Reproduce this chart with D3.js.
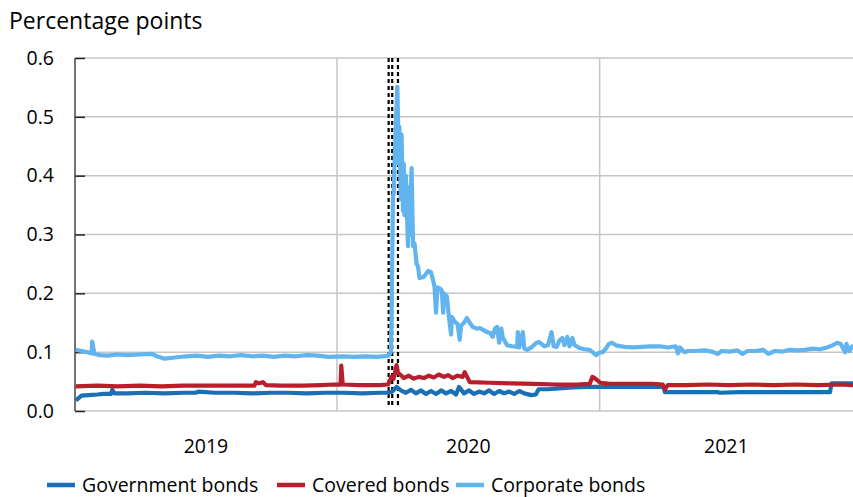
<!DOCTYPE html>
<html>
<head>
<meta charset="utf-8">
<script src="https://cdn.jsdelivr.net/npm/d3@7"></script>
<style>
  html, body { margin: 0; padding: 0; background: #fff; }
  svg { display: block; }
  text { font-family: "Open Sans", Lato, sans-serif; fill: #000; }
</style>
</head>
<body>
<svg id="chart" width="853" height="497"></svg>
<script>
// ---------- DATA ----------
const yTicks = [0, 0.1, 0.2, 0.3, 0.4, 0.5, 0.6];
const yearLabels = ["2019", "2020", "2021"];
const eventDates = ["2020-03-13", "2020-03-18", "2020-03-26"];
const seriesNames = ["Government bonds", "Covered bonds", "Corporate bonds"];

const govDates = ["2019-01-02","2019-01-06","2019-01-10","2019-01-20","2019-02-01","2019-02-10","2019-02-20","2019-02-22","2019-02-25","2019-03-15","2019-04-10","2019-05-05","2019-06-01","2019-06-18","2019-06-22","2019-07-15","2019-08-10","2019-09-05","2019-10-01","2019-10-25","2019-11-20","2019-12-15","2020-01-10","2020-02-05","2020-03-01","2020-03-12","2020-03-18","2020-03-24","2020-03-30","2020-04-06","2020-04-13","2020-04-20","2020-04-27","2020-05-04","2020-05-11","2020-05-18","2020-05-25","2020-06-01","2020-06-08","2020-06-15","2020-06-19","2020-06-26","2020-07-03","2020-07-10","2020-07-17","2020-07-24","2020-07-31","2020-08-07","2020-08-14","2020-08-21","2020-08-28","2020-09-04","2020-09-11","2020-09-18","2020-09-28","2020-10-04","2020-10-08","2020-10-20","2020-11-10","2020-11-25","2020-12-14","2021-01-15","2021-02-15","2021-03-15","2021-03-31","2021-04-02","2021-05-01","2021-06-01","2021-06-15","2021-06-17","2021-07-15","2021-08-15","2021-09-15","2021-10-15","2021-11-18","2021-11-20","2021-12-20"];
const govValues = [0.018,0.022,0.026,0.027,0.028,0.029,0.029,0.036,0.030,0.030,0.031,0.030,0.031,0.031,0.033,0.031,0.031,0.030,0.031,0.031,0.030,0.031,0.031,0.030,0.031,0.031,0.033,0.041,0.035,0.031,0.036,0.030,0.035,0.029,0.034,0.029,0.035,0.030,0.034,0.028,0.041,0.030,0.035,0.029,0.033,0.030,0.035,0.029,0.034,0.030,0.033,0.029,0.034,0.030,0.027,0.028,0.037,0.037,0.039,0.040,0.041,0.041,0.041,0.041,0.041,0.032,0.032,0.032,0.032,0.031,0.032,0.032,0.032,0.032,0.032,0.047,0.047];

const covDates = ["2019-01-02","2019-02-01","2019-03-01","2019-04-01","2019-05-01","2019-06-01","2019-07-01","2019-08-01","2019-09-08","2019-09-10","2019-09-14","2019-09-20","2019-09-24","2019-10-15","2019-11-15","2019-12-10","2019-12-28","2020-01-06","2020-01-07","2020-01-09","2020-02-01","2020-03-01","2020-03-12","2020-03-17","2020-03-20","2020-03-24","2020-03-26","2020-03-30","2020-04-03","2020-04-10","2020-04-17","2020-04-24","2020-05-01","2020-05-08","2020-05-15","2020-05-22","2020-05-29","2020-06-04","2020-06-10","2020-06-17","2020-06-24","2020-06-27","2020-07-04","2020-08-01","2020-09-01","2020-10-01","2020-11-01","2020-12-01","2020-12-18","2020-12-22","2020-12-26","2021-01-02","2021-01-15","2021-02-15","2021-03-15","2021-03-30","2021-04-02","2021-04-06","2021-05-01","2021-06-01","2021-07-01","2021-08-01","2021-09-01","2021-10-01","2021-11-01","2021-12-01","2021-12-20"];
const covValues = [0.042,0.043,0.042,0.043,0.042,0.043,0.043,0.043,0.043,0.049,0.047,0.049,0.044,0.043,0.043,0.044,0.045,0.045,0.077,0.045,0.044,0.044,0.045,0.058,0.055,0.078,0.065,0.061,0.056,0.060,0.055,0.058,0.056,0.060,0.057,0.062,0.058,0.061,0.056,0.060,0.058,0.066,0.049,0.048,0.047,0.046,0.045,0.045,0.046,0.058,0.055,0.048,0.046,0.046,0.046,0.045,0.037,0.044,0.044,0.045,0.044,0.045,0.044,0.045,0.044,0.045,0.044];

const corpDates = ["2019-01-02","2019-01-10","2019-01-18","2019-01-24","2019-01-25","2019-01-28","2019-02-05","2019-02-15","2019-03-01","2019-03-15","2019-04-01","2019-04-19","2019-04-25","2019-05-06","2019-05-20","2019-06-05","2019-06-20","2019-07-05","2019-07-20","2019-08-05","2019-08-20","2019-09-05","2019-09-20","2019-10-05","2019-10-20","2019-11-05","2019-11-20","2019-12-05","2019-12-20","2020-01-10","2020-01-25","2020-02-10","2020-02-25","2020-03-05","2020-03-13","2020-03-16","2020-03-17","2020-03-19","2020-03-20","2020-03-22","2020-03-25","2020-03-26","2020-03-27","2020-03-28","2020-03-30","2020-03-31","2020-04-02","2020-04-03","2020-04-04","2020-04-06","2020-04-09","2020-04-10","2020-04-11","2020-04-13","2020-04-14","2020-04-16","2020-04-18","2020-04-21","2020-04-23","2020-04-25","2020-05-01","2020-05-07","2020-05-11","2020-05-14","2020-05-16","2020-05-18","2020-05-20","2020-05-24","2020-05-26","2020-05-28","2020-05-29","2020-06-02","2020-06-05","2020-06-08","2020-06-09","2020-06-13","2020-06-17","2020-06-20","2020-06-22","2020-06-26","2020-06-30","2020-07-04","2020-07-08","2020-07-14","2020-07-18","2020-07-24","2020-07-28","2020-08-01","2020-08-05","2020-08-08","2020-08-11","2020-08-14","2020-08-17","2020-08-19","2020-08-25","2020-09-01","2020-09-08","2020-09-09","2020-09-11","2020-09-16","2020-09-18","2020-09-22","2020-09-28","2020-10-05","2020-10-09","2020-10-16","2020-10-21","2020-10-26","2020-10-29","2020-11-02","2020-11-06","2020-11-10","2020-11-13","2020-11-17","2020-11-20","2020-11-24","2020-11-27","2020-12-04","2020-12-11","2020-12-18","2020-12-22","2020-12-27","2020-12-31","2021-01-05","2021-01-09","2021-01-14","2021-01-18","2021-01-25","2021-02-05","2021-02-16","2021-03-01","2021-03-12","2021-03-26","2021-04-06","2021-04-17","2021-04-20","2021-04-23","2021-04-29","2021-05-04","2021-05-14","2021-05-28","2021-06-06","2021-06-15","2021-06-20","2021-07-01","2021-07-12","2021-07-19","2021-07-26","2021-08-06","2021-08-17","2021-08-24","2021-09-02","2021-09-13","2021-09-23","2021-10-04","2021-10-14","2021-10-25","2021-11-04","2021-11-14","2021-11-22","2021-11-28","2021-12-03","2021-12-09","2021-12-11","2021-12-15","2021-12-20"];
const corpValues = [0.104,0.102,0.100,0.098,0.118,0.097,0.095,0.094,0.096,0.095,0.096,0.097,0.093,0.089,0.091,0.093,0.094,0.092,0.094,0.093,0.095,0.093,0.094,0.092,0.094,0.093,0.095,0.094,0.092,0.093,0.092,0.093,0.092,0.093,0.094,0.100,0.150,0.364,0.370,0.450,0.551,0.500,0.420,0.483,0.360,0.470,0.340,0.420,0.333,0.400,0.280,0.380,0.300,0.380,0.413,0.280,0.285,0.250,0.245,0.226,0.228,0.238,0.236,0.222,0.210,0.167,0.210,0.208,0.205,0.167,0.200,0.195,0.160,0.130,0.160,0.152,0.148,0.121,0.145,0.150,0.158,0.150,0.143,0.140,0.141,0.137,0.134,0.133,0.126,0.140,0.143,0.116,0.140,0.125,0.112,0.110,0.109,0.134,0.108,0.134,0.106,0.104,0.108,0.116,0.117,0.110,0.112,0.134,0.110,0.109,0.120,0.124,0.112,0.126,0.110,0.124,0.112,0.107,0.105,0.104,0.100,0.095,0.099,0.100,0.105,0.114,0.116,0.111,0.109,0.108,0.109,0.110,0.110,0.108,0.110,0.098,0.108,0.100,0.102,0.102,0.103,0.101,0.097,0.102,0.101,0.103,0.097,0.102,0.102,0.104,0.097,0.102,0.101,0.104,0.103,0.104,0.106,0.105,0.108,0.112,0.116,0.114,0.100,0.114,0.102,0.112];

const seriesColors = ["#1a6fb6", "#b81f2c", "#62b4ef"];

// ---------- CHART ----------
const parse = d3.timeParse("%Y-%m-%d");
const svg = d3.select("#chart");
const mLeft = 75, mRight = 853, mTop = 58, mBottom = 411;

const x = d3.scaleTime()
  .domain([parse("2019-01-01"), parse("2021-12-20")])
  .range([mLeft, mRight]);
const y = d3.scaleLinear().domain([0, 0.6]).range([mBottom, mTop]);

// horizontal gridlines
svg.append("g")
  .selectAll("line").data(yTicks.filter(d => d > 0)).join("line")
  .attr("x1", mLeft).attr("x2", mRight)
  .attr("y1", d => y(d)).attr("y2", d => y(d))
  .attr("stroke", "#c6c6c6").attr("stroke-width", 1.5);

// vertical year gridlines
const yearStarts = yearLabels.map(yr => parse(yr + "-01-01"));
svg.append("g")
  .selectAll("line").data(yearStarts.slice(1)).join("line")
  .attr("x1", d => x(d)).attr("x2", d => x(d))
  .attr("y1", mTop).attr("y2", mBottom)
  .attr("stroke", "#c6c6c6").attr("stroke-width", 1.5);

// bottom axis line
svg.append("line")
  .attr("x1", mLeft).attr("x2", mRight).attr("y1", mBottom).attr("y2", mBottom)
  .attr("stroke", "#c6c6c6").attr("stroke-width", 1.5);

// y axis
const yAxis = d3.axisRight(y).tickValues(yTicks).tickSize(10).tickFormat("");
const gy = svg.append("g").attr("transform", `translate(${mLeft},0)`).call(yAxis);
gy.select(".domain").remove();
gy.selectAll(".tick line").attr("stroke", "#222").attr("stroke-width", 1.5);
svg.append("line")
  .attr("x1", mLeft).attr("x2", mLeft).attr("y1", mTop).attr("y2", mBottom)
  .attr("stroke", "#444").attr("stroke-width", 1.5);

// y tick labels
svg.append("g").selectAll("text").data(yTicks).join("text")
  .attr("x", 54).attr("y", d => y(d)).attr("dy", "0.35em")
  .attr("text-anchor", "end").attr("font-size", 19.5)
  .text(d => d3.format(".1f")(d));

// x labels centred in each year
svg.append("g").selectAll("text").data(yearLabels).join("text")
  .attr("x", (d, i) => {
    const a = x(yearStarts[i]);
    const b = i < yearLabels.length - 1 ? x(yearStarts[i + 1]) : mRight;
    return (Math.max(a, mLeft) + Math.min(b, mRight)) / 2;
  })
  .attr("y", 453).attr("text-anchor", "middle").attr("font-size", 19.5)
  .text(d => d);

// title
svg.append("text").attr("x", 9).attr("y", 29).attr("font-size", 23)
  .text("Percentage points");

// event lines
svg.append("g").selectAll("line").data(eventDates.map(parse)).join("line")
  .attr("x1", d => x(d)).attr("x2", d => x(d))
  .attr("y1", mTop).attr("y2", 407)
  .attr("stroke", "#000").attr("stroke-width", 2.2)
  .attr("stroke-dasharray", "4,3");

// series lines
const allDates = [govDates, covDates, corpDates];
const allValues = [govValues, covValues, corpValues];
const line = d3.line().x(d => x(d[0])).y(d => y(d[1])).curve(d3.curveLinear);
[0, 1, 2].forEach(i => {
  const pts = allDates[i].map((d, j) => [parse(d), allValues[i][j]]);
  svg.append("path").datum(pts)
    .attr("fill", "none").attr("stroke", seriesColors[i])
    .attr("stroke-width", 4.2).attr("stroke-linejoin", "round")
    .attr("d", line);
});

// legend
const legendX = [47, 277, 456];
const lg = svg.append("g");
seriesNames.forEach((name, i) => {
  lg.append("line").attr("x1", legendX[i]).attr("x2", legendX[i] + 28)
    .attr("y1", 485).attr("y2", 485)
    .attr("stroke", seriesColors[i]).attr("stroke-width", 4.5);
  lg.append("text").attr("x", legendX[i] + 35).attr("y", 492)
    .attr("font-size", 19.5).text(name);
});
</script>
</body>
</html>
